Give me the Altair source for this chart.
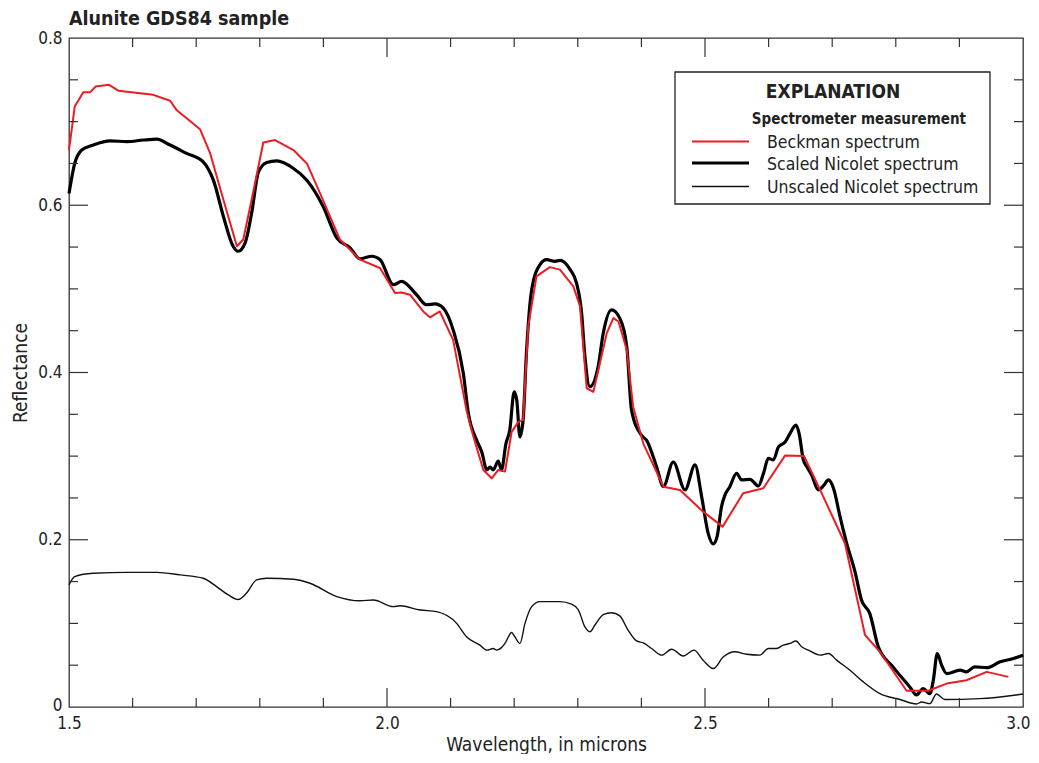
import altair as alt
import pandas as pd

FONT = "DejaVu Sans Condensed, Liberation Sans Narrow, Arial Narrow, sans-serif"
RED = "#ec1c24"

# Beckman spectrum (red)
beck_x = [1.500, 1.509, 1.5225, 1.533, 1.542, 1.563, 1.5775, 1.612, 1.6325, 1.659, 1.669, 1.685,
          1.706, 1.722, 1.743, 1.764, 1.774, 1.787, 1.8055, 1.824, 1.853, 1.874, 1.895, 1.926,
          1.9575, 1.989, 2.0126, 2.023, 2.036, 2.057, 2.0676, 2.083, 2.104, 2.125, 2.136, 2.1515,
          2.1646, 2.175, 2.1855, 2.196, 2.2065, 2.214, 2.222, 2.235, 2.256, 2.272, 2.293, 2.3035,
          2.314, 2.3245, 2.3455, 2.356, 2.364, 2.377, 2.387, 2.403, 2.4345, 2.4607, 2.497, 2.5277,
          2.560, 2.5917, 2.6258, 2.6557, 2.681, 2.720, 2.7516, 2.775, 2.817, 2.851, 2.880, 2.911,
          2.943, 2.977]
beck_y = [0.666, 0.718, 0.735, 0.735, 0.742, 0.744, 0.737, 0.734, 0.732, 0.725, 0.714, 0.704,
          0.691, 0.662, 0.606, 0.551, 0.559, 0.606, 0.675, 0.678, 0.666, 0.650, 0.614, 0.559,
          0.535, 0.525, 0.495, 0.4956, 0.493, 0.473, 0.466, 0.473, 0.439, 0.355, 0.323, 0.2835,
          0.2735, 0.2835, 0.2815, 0.329, 0.341, 0.343, 0.455, 0.515, 0.526, 0.523, 0.503, 0.479,
          0.381, 0.377, 0.447, 0.465, 0.461, 0.427, 0.359, 0.315, 0.2635, 0.2596, 0.2336, 0.2157,
          0.2556, 0.2616, 0.3006, 0.3002, 0.2596, 0.1958, 0.0861, 0.066, 0.0195, 0.0195, 0.028, 0.032,
          0.042, 0.036]

# Scaled Nicolet spectrum (thick black)
scaled_x = [1.500, 1.509, 1.520, 1.538, 1.5645, 1.591, 1.617, 1.638, 1.659, 1.685, 1.711, 1.727,
            1.743, 1.758, 1.766, 1.777, 1.787, 1.798, 1.811, 1.8265, 1.853, 1.874, 1.900, 1.921,
            1.942, 1.9575, 1.976, 1.989, 2.010, 2.023, 2.0465, 2.062, 2.0755, 2.0885, 2.104, 2.120,
            2.128, 2.141, 2.149, 2.157, 2.162, 2.167, 2.175, 2.180, 2.187, 2.193, 2.200, 2.204,
            2.209, 2.214, 2.2195, 2.2275, 2.2405, 2.251, 2.264, 2.272, 2.288, 2.298, 2.306, 2.311,
            2.319, 2.332, 2.340, 2.353, 2.366, 2.377, 2.3845, 2.400, 2.408, 2.424, 2.4345, 2.450,
            2.4686, 2.4843, 2.4947, 2.505, 2.513, 2.519, 2.526, 2.5315, 2.539, 2.5497, 2.5575,
            2.5708, 2.584, 2.592, 2.5995, 2.6075, 2.6155, 2.626, 2.6336, 2.643, 2.648, 2.6546,
            2.660, 2.6677, 2.678, 2.686, 2.694, 2.702, 2.7123, 2.7227, 2.7358, 2.746, 2.759, 2.7725,
            2.7956, 2.822, 2.8325, 2.843, 2.8535, 2.859, 2.8652, 2.872, 2.880, 2.901, 2.911, 2.924,
            2.943, 2.964, 2.985, 3.000]
scaled_y = [0.614, 0.650, 0.666, 0.672, 0.677, 0.676, 0.678, 0.679, 0.672, 0.662, 0.652, 0.630,
            0.586, 0.551, 0.545, 0.555, 0.590, 0.640, 0.651, 0.653, 0.644, 0.630, 0.598, 0.561,
            0.549, 0.536, 0.539, 0.535, 0.505, 0.509, 0.493, 0.481, 0.482, 0.477, 0.451, 0.399,
            0.351, 0.319, 0.305, 0.2835, 0.287, 0.2835, 0.294, 0.2835, 0.315, 0.331, 0.377, 0.367,
            0.323, 0.343, 0.427, 0.499, 0.529, 0.535, 0.533, 0.534, 0.523, 0.507, 0.471, 0.421,
            0.383, 0.407, 0.447, 0.475, 0.465, 0.431, 0.355, 0.325, 0.319, 0.287, 0.2635, 0.293,
            0.2596, 0.2895, 0.2516, 0.2077, 0.195, 0.2037, 0.2396, 0.2536, 0.2635, 0.2795, 0.2715,
            0.2723, 0.2643, 0.2795, 0.2974, 0.2955, 0.311, 0.317, 0.327, 0.337, 0.327, 0.2955,
            0.2875, 0.2775, 0.2596, 0.2643, 0.2715, 0.2616, 0.2276, 0.1958, 0.1618, 0.128, 0.112, 0.072,
            0.048, 0.024, 0.0144, 0.022, 0.016, 0.032, 0.064, 0.050, 0.040, 0.044, 0.042, 0.048,
            0.047, 0.054, 0.058, 0.062]

# Unscaled Nicolet spectrum (thin black)
unscaled_x = [1.500, 1.509, 1.538, 1.591, 1.638, 1.6745, 1.711, 1.732, 1.7505, 1.766, 1.779, 1.795,
              1.811, 1.853, 1.879, 1.921, 1.9575, 1.9785, 2.010, 2.0205, 2.052, 2.078, 2.1095, 2.125,
              2.146, 2.157, 2.167, 2.1725, 2.180, 2.1855, 2.196, 2.201, 2.209, 2.217, 2.2275, 2.2405,
              2.272, 2.290, 2.301, 2.311, 2.319, 2.327, 2.340, 2.353, 2.366, 2.379, 2.3925, 2.403,
              2.416, 2.432, 2.4475, 2.466, 2.4827, 2.497, 2.513, 2.529, 2.547, 2.5655, 2.5865, 2.5995,
              2.6126, 2.623, 2.6336, 2.643, 2.652, 2.6625, 2.681, 2.694, 2.707, 2.728, 2.749, 2.775,
              2.8066, 2.8325, 2.8405, 2.8535, 2.864, 2.877, 2.932, 3.000]
unscaled_y = [0.146, 0.156, 0.160, 0.161, 0.161, 0.158, 0.154, 0.144, 0.134, 0.1285, 0.136, 0.152,
              0.154, 0.1527, 0.148, 0.132, 0.127, 0.128, 0.120, 0.121, 0.116, 0.114, 0.100, 0.084,
              0.074, 0.068, 0.070, 0.068, 0.071, 0.076, 0.089, 0.084, 0.076, 0.100, 0.120, 0.126,
              0.126, 0.123, 0.116, 0.096, 0.090, 0.098, 0.1105, 0.1127, 0.109, 0.092, 0.079, 0.0766,
              0.070, 0.062, 0.069, 0.061, 0.068, 0.056, 0.046, 0.060, 0.066, 0.063, 0.062, 0.070,
              0.070, 0.074, 0.076, 0.079, 0.072, 0.068, 0.062, 0.064, 0.056, 0.044, 0.030, 0.016,
              0.009, 0.0036, 0.006, 0.004, 0.0155, 0.009, 0.010, 0.0155]

x_labels = [1.5, 2.0, 2.5, 3.0]
y_labels = [0.0, 0.2, 0.4, 0.6, 0.8]
x_minor = [1.6, 1.7, 1.8, 1.9, 2.1, 2.2, 2.3, 2.4, 2.6, 2.7, 2.8, 2.9]
x_major = [2.0, 2.5]
y_minor = [0.05, 0.1, 0.15, 0.25, 0.3, 0.35, 0.45, 0.5, 0.55, 0.65, 0.7, 0.75]
y_major = [0.2, 0.4, 0.6]

chart_title = "Alunite GDS84 sample"
legend_title = "EXPLANATION"
legend_subtitle = "Spectrometer measurement"
legend_labels = ["Beckman spectrum", "Scaled Nicolet spectrum", "Unscaled Nicolet spectrum"]

W, H = 954, 669
MINOR, MAJOR = 9, 19

xs = alt.Scale(domain=[1.5, 3.0], nice=False, zero=False)
ys = alt.Scale(domain=[0, 0.8], nice=False)

x_axis = alt.Axis(values=x_labels, format=".1f", ticks=False, domain=False, grid=False,
                  labelFlush=False, labelOverlap=False,
                  labelAlign={"condition": {"test": "datum.value >= 3", "value": "right"},
                              "value": "center"},
                  labelOffset={"condition": {"test": "datum.value >= 3", "value": 7},
                               "value": 0},
                  labelFontSize=17, labelFont=FONT, labelColor="#222", labelPadding=8,
                  title="Wavelength, in microns", titleFont=FONT, titleFontSize=19,
                  titleFontWeight="normal", titleColor="#222", titlePadding=4)
y_axis = alt.Axis(values=y_labels, ticks=False, domain=False, grid=False,
                  labelFlush=False, labelOverlap=False,
                  labelOffset={"condition": {"test": "datum.value == 0", "value": -2},
                               "value": 0},
                  labelExpr="datum.value == 0 ? '0' : format(datum.value, '.1f')",
                  labelFontSize=17, labelFont=FONT, labelColor="#222", labelPadding=7,
                  title="Reflectance", titleFont=FONT, titleFontSize=19,
                  titleFontWeight="normal", titleColor="#222", titlePadding=7)

X = alt.X("x:Q", scale=xs, axis=x_axis)
Y = alt.Y("y:Q", scale=ys, axis=y_axis)


def series(xv, yv, color, width, interp="linear"):
    df = pd.DataFrame({"x": xv, "y": yv})
    return alt.Chart(df).mark_line(color=color, strokeWidth=width, strokeJoin="round",
                                   interpolate=interp).encode(x=X, y=Y)


unscaled = series(unscaled_x, unscaled_y, "#111", 1.4, "monotone")
scaled = series(scaled_x, scaled_y, "#000", 3.2, "monotone")
beck = series(beck_x, beck_y, RED, 2.0)


def xticks(vals, length):
    d = pd.DataFrame({"x": vals})
    base = alt.Chart(d).mark_rule(color="#333", strokeWidth=1.2)
    bottom = base.encode(x=X, y=alt.value(H), y2=alt.value(H - length))
    top = base.encode(x=X, y=alt.value(0), y2=alt.value(length))
    return bottom + top


def yticks(vals, length):
    d = pd.DataFrame({"y": vals})
    base = alt.Chart(d).mark_rule(color="#333", strokeWidth=1.2)
    left = base.encode(y=Y, x=alt.value(0), x2=alt.value(length))
    right = base.encode(y=Y, x=alt.value(W), x2=alt.value(W - length))
    return left + right


one = pd.DataFrame({"a": [0]})
title_mark = alt.Chart(one).mark_text(font=FONT, fontSize=19.5, fontWeight="bold", align="left",
                                      baseline="alphabetic", color="#222").encode(
    x=alt.value(0), y=alt.value(-13), text=alt.value(chart_title))
box = alt.Chart(one).mark_rect(fill="white", stroke="#222", strokeWidth=1.3).encode(
    x=alt.value(606), x2=alt.value(921), y=alt.value(34), y2=alt.value(166))
t_title = alt.Chart(one).mark_text(font=FONT, fontSize=19, fontWeight="bold", align="center",
                                   baseline="alphabetic", color="#222").encode(
    x=alt.value(764), y=alt.value(60), text=alt.value(legend_title))
t_sub = alt.Chart(one).mark_text(font=FONT, fontSize=15, fontWeight="bold", align="right",
                                 baseline="alphabetic", color="#222").encode(
    x=alt.value(897), y=alt.value(86), text=alt.value(legend_subtitle))

leg_colors = [RED, "#000", "#111"]
leg_widths = [2.0, 3.2, 1.4]
leg_line_y = [103.5, 125, 148.5]
leg_text_y = [109.5, 132, 155]
leg_layers = []
for lab, c, w, ly, ty in zip(legend_labels, leg_colors, leg_widths, leg_line_y, leg_text_y):
    leg_layers.append(alt.Chart(one).mark_rule(color=c, strokeWidth=w).encode(
        x=alt.value(623), x2=alt.value(680), y=alt.value(ly)))
    leg_layers.append(alt.Chart(one).mark_text(font=FONT, fontSize=17.5, align="left",
                                               baseline="alphabetic", color="#222").encode(
        x=alt.value(698), y=alt.value(ty), text=alt.value(lab)))

chart = alt.layer(
    unscaled, scaled, beck,
    xticks(x_minor, MINOR), xticks(x_major, MAJOR),
    yticks(y_minor, MINOR), yticks(y_major, MAJOR),
    title_mark, box, t_title, t_sub, *leg_layers,
).properties(
    width=W, height=H,
    autosize=alt.AutoSizeParams(type="none"),
    padding={"left": 61, "top": 30, "right": 8, "bottom": 47},
).configure_view(stroke="#333", strokeWidth=1.3)

chart.save("out.html", embed_options={"renderer": "svg", "actions": False})
